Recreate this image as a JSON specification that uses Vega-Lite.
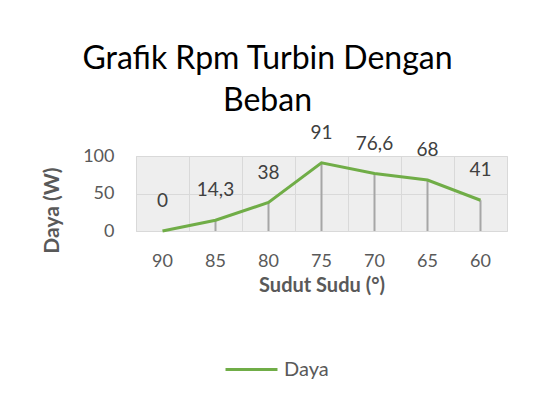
{
  "$schema": "https://vega.github.io/schema/vega-lite/v6.json",
  "width": 371,
  "height": 75,
  "autosize": {"type": "none"},
  "padding": {"left": 136, "top": 156, "right": 27, "bottom": 170},
  "background": "white",
  "title": {
    "text": ["Grafik Rpm Turbin Dengan", "Beban"],
    "font": "Lato",
    "fontSize": 32,
    "fontWeight": "normal",
    "color": "#000000",
    "anchor": "middle",
    "frame": "group",
    "dx": -54,
    "lineHeight": 42,
    "offset": 6
  },
  "data": {
    "values": [
      {"sudut": 90, "daya": 0, "label": "0", "series": "Daya"},
      {"sudut": 85, "daya": 14.3, "label": "14,3", "series": "Daya"},
      {"sudut": 80, "daya": 38, "label": "38", "series": "Daya"},
      {"sudut": 75, "daya": 91, "label": "91", "series": "Daya"},
      {"sudut": 70, "daya": 76.6, "label": "76,6", "series": "Daya"},
      {"sudut": 65, "daya": 68, "label": "68", "series": "Daya"},
      {"sudut": 60, "daya": 41, "label": "41", "series": "Daya"}
    ]
  },
  "encoding": {
    "x": {
      "field": "sudut",
      "type": "ordinal",
      "sort": "descending",
      "scale": {"paddingInner": 0, "paddingOuter": 0},
      "axis": {
        "title": "Sudut Sudu (°)",
        "labelAngle": 0,
        "labelFont": "Lato",
        "labelFontSize": 18,
        "labelColor": "#595959",
        "labelPadding": 21,
        "ticks": false,
        "domain": false,
        "grid": true,
        "gridColor": "#d9d9d9",
        "gridWidth": 1,
        "bandPosition": 0,
        "titleFont": "Lato",
        "titleFontSize": 20,
        "titleFontWeight": "bold",
        "titleColor": "#595959",
        "titlePadding": 5
      }
    },
    "y": {
      "field": "daya",
      "type": "quantitative",
      "scale": {"domain": [0, 100], "nice": false},
      "axis": {
        "values": [0, 50, 100],
        "labelOverlap": false,
        "title": "Daya (W)",
        "labelFont": "Lato",
        "labelFontSize": 18,
        "labelColor": "#595959",
        "labelPadding": 22,
        "ticks": false,
        "domain": false,
        "grid": true,
        "gridColor": "#d9d9d9",
        "titleFont": "Lato",
        "titleFontSize": 21,
        "titleFontWeight": "bold",
        "titleColor": "#595959",
        "titlePadding": 20,
        "titleY": 54
      }
    }
  },
  "layer": [
    {
      "mark": {"type": "rule", "color": "#a6a6a6", "strokeWidth": 2},
      "encoding": {
        "y2": {"datum": 0}
      }
    },
    {
      "mark": {"type": "line", "strokeWidth": 3},
      "encoding": {
        "color": {
          "field": "series",
          "type": "nominal",
          "scale": {"range": ["#70ad47"]},
          "legend": {
            "title": null,
            "orient": "none",
            "legendX": 88,
            "legendY": 186,
            "symbolType": "stroke",
            "symbolSize": 2700,
            "symbolStrokeWidth": 3,
            "labelFont": "Lato",
            "labelFontSize": 20,
            "labelColor": "#595959",
            "labelOffset": 5
          }
        }
      }
    },
    {
      "mark": {"type": "text", "font": "Lato", "fontSize": 19, "color": "#404040", "dy": -30},
      "encoding": {
        "text": {"field": "label"}
      }
    }
  ],
  "config": {
    "view": {"fill": "#eeeeee", "stroke": "#d9d9d9"}
  }
}
